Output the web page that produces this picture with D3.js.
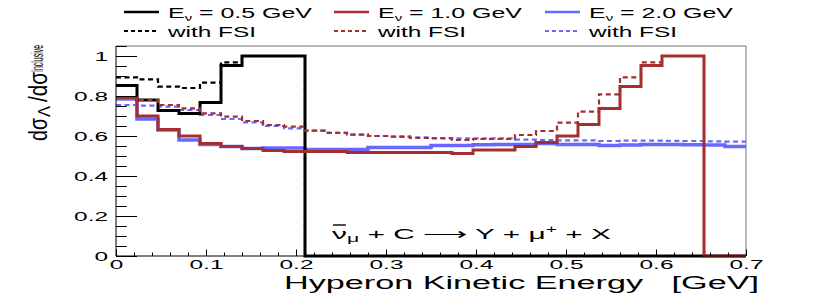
<!DOCTYPE html>
<html>
<head>
<meta charset="utf-8">
<script src="https://cdn.jsdelivr.net/npm/d3@7/dist/d3.min.js"></script>
<style>
  body { margin: 0; background: #fff; }
  svg { display: block; }
  text { font-family: "Liberation Sans", Arial, Helvetica, sans-serif; fill: #000; }
</style>
</head>
<body>
<svg width="830" height="294"></svg>
<script>
// 30 bins from 0 to 0.7 GeV
const xMax = 0.7;
const yMax = 1.05;

const e05 = [0.852, 0.78, 0.727, 0.713, 0.768, 0.952, 1, 1, 1,
  0, 0, 0, 0, 0, 0, 0, 0, 0, 0, 0, 0, 0, 0, 0, 0, 0, 0, 0, 0, 0];
const e05fsi = [0.893, 0.883, 0.847, 0.84, 0.867, 0.968, 1, 1, 1,
  0, 0, 0, 0, 0, 0, 0, 0, 0, 0, 0, 0, 0, 0, 0, 0, 0, 0, 0, 0, 0];
const e10 = [0.793, 0.70, 0.633, 0.60, 0.563, 0.547, 0.538, 0.528, 0.522,
  0.522, 0.522, 0.517, 0.517, 0.517, 0.517, 0.517, 0.513, 0.53, 0.53,
  0.547, 0.568, 0.60, 0.658, 0.738, 0.847, 0.952, 1, 1, 0, 0];
const e10fsi = [0.793, 0.78, 0.755, 0.738, 0.713, 0.697, 0.675, 0.655, 0.647,
  0.627, 0.615, 0.607, 0.60, 0.597, 0.59, 0.588, 0.58, 0.585, 0.585,
  0.605, 0.625, 0.667, 0.722, 0.808, 0.893, 0.968, 1, 1, 0, 0];
const e20 = [0.785, 0.685, 0.63, 0.58, 0.558, 0.547, 0.538, 0.54, 0.54,
  0.533, 0.533, 0.533, 0.543, 0.543, 0.543, 0.553, 0.553, 0.556, 0.558,
  0.558, 0.563, 0.558, 0.558, 0.552, 0.555, 0.558, 0.557, 0.556, 0.555, 0.547];
const e20fsi = [0.755, 0.752, 0.747, 0.73, 0.705, 0.685, 0.668, 0.65, 0.638,
  0.627, 0.617, 0.607, 0.60, 0.597, 0.593, 0.59, 0.588, 0.588, 0.588,
  0.582, 0.58, 0.578, 0.578, 0.575, 0.577, 0.577, 0.576, 0.575, 0.573, 0.572];

const xTicks = [0, 0.1, 0.2, 0.3, 0.4, 0.5, 0.6, 0.7];
const yTicks = [0, 0.2, 0.4, 0.6, 0.8, 1];

const legendLabels = ["0.5", "1.0", "2.0"];

const black = "#000000";
const red = "#a32f2f";
const blue = "#6868ff";

const svg = d3.select("svg");
const plotLeft = 116, plotRight = 746, plotTop = 46, plotBottom = 256;

const x = d3.scaleLinear().domain([0, xMax]).range([plotLeft, plotRight]);
const y = d3.scaleLinear().domain([0, yMax]).range([plotBottom, plotTop]);

// stretch text horizontally (the original is a widened ROOT canvas)
function widen(sel, k) {
  sel.each(function() {
    const w = this.getComputedTextLength();
    this.setAttribute("textLength", w * k);
    this.setAttribute("lengthAdjust", "spacingAndGlyphs");
  });
}

// frame
svg.append("path")
  .attr("d", `M${plotLeft},${plotTop}H${plotRight}V${plotBottom}`)
  .attr("fill", "none")
  .attr("stroke", "#777")
  .attr("stroke-width", 1);

// histograms
function steps(vals) {
  const w = xMax / vals.length;
  const pts = vals.map((v, i) => [i * w, v]);
  pts.push([xMax, vals[vals.length - 1]]);
  return pts;
}
const line = d3.line()
  .x(d => x(d[0]))
  .y(d => y(d[1]))
  .curve(d3.curveStepAfter);

const hists = [
  { vals: e20, color: blue, width: 3.5, dash: null },
  { vals: e20fsi, color: blue, width: 2.2, dash: "5,3.5" },
  { vals: e05, color: black, width: 3, dash: null },
  { vals: e05fsi, color: black, width: 2.2, dash: "5,3.5" },
  { vals: e10, color: red, width: 3, dash: null },
  { vals: e10fsi, color: red, width: 2.2, dash: "5,3.5" },
];

svg.selectAll("path.hist")
  .data(hists)
  .enter()
  .append("path")
  .attr("class", "hist")
  .attr("d", d => line(steps(d.vals)))
  .attr("fill", "none")
  .attr("stroke", d => d.color)
  .attr("stroke-width", d => d.width)
  .attr("stroke-dasharray", d => d.dash);

// axes
const yMinor = d3.range(0, yMax + 0.001, 0.05);
const xMinor = d3.range(0, xMax + 0.001, 0.02);

svg.append("g")
  .attr("transform", `translate(${plotLeft},0)`)
  .call(d3.axisLeft(y).tickValues(yMinor).tickSize(-10.7).tickFormat(""))
  .call(g => g.select(".domain").remove());

const yAxis = svg.append("g")
  .attr("transform", `translate(${plotLeft},0)`)
  .call(d3.axisLeft(y).tickValues(yTicks).tickSize(-21).tickPadding(8)
    .tickFormat(d => d === 0 ? "0" : d === 1 ? "1" : d3.format(".1f")(d)));
yAxis.select(".domain").attr("d", `M0,${plotBottom}V${plotTop}`).attr("stroke", "#000");
yAxis.selectAll("text")
  .attr("font-size", 12.5)
  .style("font-family", "Liberation Sans, Arial, sans-serif")
  .call(widen, 1.95);

svg.append("g")
  .attr("transform", `translate(0,${plotBottom})`)
  .call(d3.axisBottom(x).tickValues(xMinor).tickSize(-3.5).tickFormat(""))
  .call(g => g.select(".domain").remove());

const xAxis = svg.append("g")
  .attr("transform", `translate(0,${plotBottom})`)
  .call(d3.axisBottom(x).tickValues(xTicks).tickSize(-6.5).tickPadding(4)
    .tickFormat(d => d === 0 ? "0" : d3.format(".1f")(d)));
xAxis.select(".domain").attr("d", `M${plotLeft},0H${plotRight}`).attr("stroke", "#000");
xAxis.selectAll("text")
  .attr("font-size", 12.5)
  .attr("dy", "0.71em")
  .style("font-family", "Liberation Sans, Arial, sans-serif")
  .call(widen, 1.95);

// x title
svg.append("text")
  .attr("x", 284)
  .attr("y", 289)
  .attr("font-size", 18)
  .attr("xml:space", "preserve")
  .text("Hyperon Kinetic Energy   [GeV]")
  .attr("textLength", 475)
  .attr("lengthAdjust", "spacingAndGlyphs");

// y title, drawn piece by piece (rotated)
const yTitle = [
  { t: "d\u03c3", bx: 47, y0: 141, size: 21, len: 23, sy: 1.2 },
  { t: "\u039b", bx: 50, y0: 117, size: 13, len: 11, sy: 1.2 },
  { t: "/d\u03c3", bx: 47, y0: 102, size: 21, len: 30, sy: 1.2 },
  { t: "Inclusive", bx: 43, y0: 72, size: 11, len: 27, sy: 1.5 },
];
svg.selectAll("text.ytitle")
  .data(yTitle)
  .enter()
  .append("text")
  .attr("class", "ytitle")
  .attr("transform", d => `translate(${d.bx},${d.y0}) rotate(-90) scale(1,${d.sy})`)
  .attr("font-size", d => d.size)
  .attr("textLength", d => d.len)
  .attr("lengthAdjust", "spacingAndGlyphs")
  .text(d => d.t);

// reaction label
const reaction = svg.append("text")
  .attr("x", 332)
  .attr("y", 239)
  .attr("font-size", 15.5)
  .attr("xml:space", "preserve");
reaction.append("tspan").text("\u03bd");
reaction.append("tspan").attr("font-size", 11).attr("dy", 3).text("\u03bc");
reaction.append("tspan").attr("dy", -3).text(" + C \u27f6 Y + \u03bc");
reaction.append("tspan").attr("font-size", 10).attr("dy", -6).text("+");
reaction.append("tspan").attr("dy", 6).text(" + X");
reaction.attr("textLength", 279).attr("lengthAdjust", "spacingAndGlyphs");
const nu = reaction.node().getExtentOfChar(0);
svg.append("line")
  .attr("x1", nu.x + 1).attr("x2", nu.x + nu.width - 1)
  .attr("y1", 225).attr("y2", 225)
  .attr("stroke", "#000").attr("stroke-width", 1.4);

// legend
const colX = [124, 334, 545];
const legend = svg.selectAll("g.leg")
  .data(legendLabels)
  .enter()
  .append("g")
  .attr("class", "leg")
  .attr("transform", (d, i) => `translate(${colX[i]},0)`);

const legColors = [black, red, blue];
legend.append("line")
  .attr("x1", 0).attr("x2", 35).attr("y1", 12).attr("y2", 12)
  .attr("stroke", (d, i) => legColors[i]).attr("stroke-width", 2.5);
legend.append("line")
  .attr("x1", 0).attr("x2", 35).attr("y1", 31).attr("y2", 31)
  .attr("stroke", (d, i) => legColors[i]).attr("stroke-width", 2)
  .attr("stroke-dasharray", "4,3");

const lt = legend.append("text")
  .attr("x", 44).attr("y", 17.5)
  .attr("font-size", 15)
  .attr("xml:space", "preserve");
lt.append("tspan").text("E");
lt.append("tspan").attr("font-size", 9).attr("dy", 3).text("\u03bd");
lt.append("tspan").attr("dy", -3).text(d => ` = ${d} GeV`);
lt.attr("textLength", 144).attr("lengthAdjust", "spacingAndGlyphs");

legend.append("text")
  .attr("x", 44).attr("y", 36.5)
  .attr("font-size", 15)
  .text("with FSI")
  .attr("textLength", 88)
  .attr("lengthAdjust", "spacingAndGlyphs");
</script>
</body>
</html>
